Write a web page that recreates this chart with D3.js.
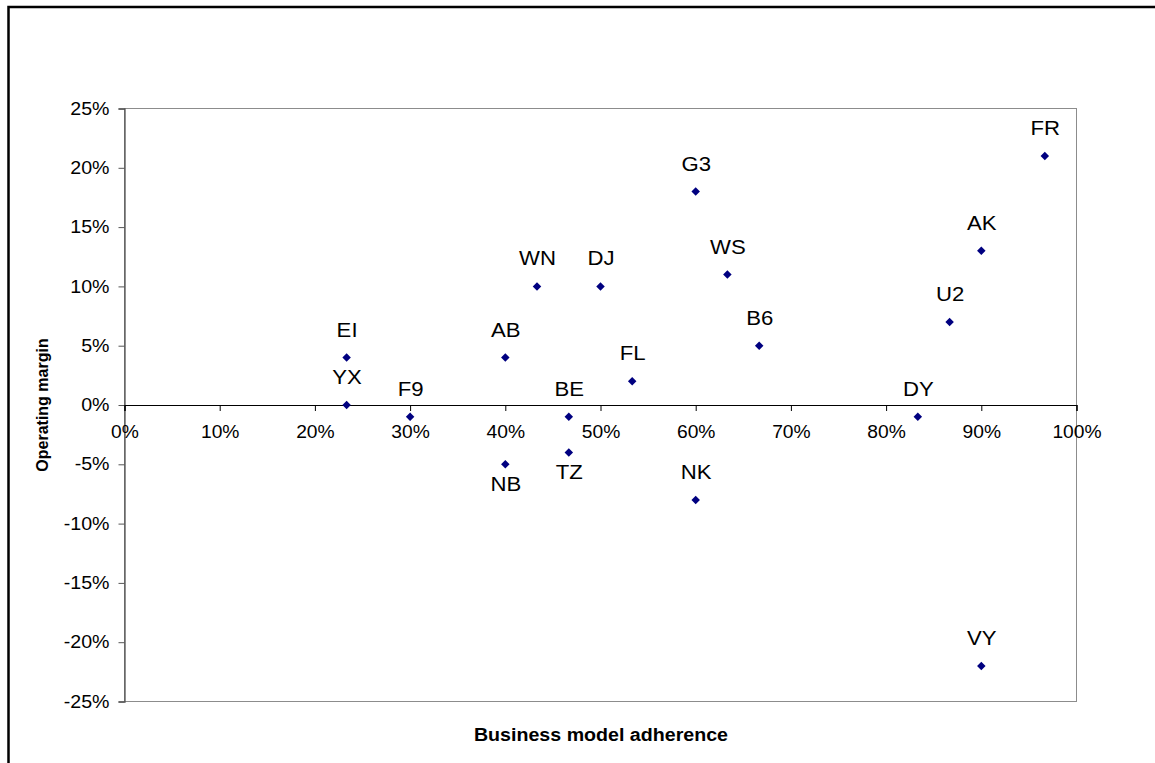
<!DOCTYPE html>
<html>
<head>
<meta charset="utf-8">
<script src="https://cdn.jsdelivr.net/npm/d3@7"></script>
<style>
  html, body { margin: 0; padding: 0; background: #fff; }
  svg { display: block; }
  text { font-family: "Liberation Sans", Arial, sans-serif; }
</style>
</head>
<body>
<svg id="chart" width="1155" height="763"></svg>
<script>
// Data
const airlines = ["EI","YX","F9","AB","NB","WN","BE","TZ","DJ","FL","G3","NK","WS","B6","DY","U2","AK","VY","FR"];
const adherence = [0.2333,0.2333,0.30,0.40,0.40,0.4333,0.4667,0.4667,0.50,0.5333,0.60,0.60,0.6333,0.6667,0.8333,0.8667,0.90,0.90,0.9667];
const margin = [0.04,0.00,-0.01,0.04,-0.05,0.10,-0.01,-0.04,0.10,0.02,0.18,-0.08,0.11,0.05,-0.01,0.07,0.13,-0.22,0.21];
const labelBelow = ["NB","TZ"];
const xTicks = [0,0.1,0.2,0.3,0.4,0.5,0.6,0.7,0.8,0.9,1.0];
const yTicks = [-0.25,-0.2,-0.15,-0.1,-0.05,0,0.05,0.1,0.15,0.2,0.25];
const xTitle = "Business model adherence";
const yTitle = "Operating margin";

const svg = d3.select("#chart");
const pct = v => Math.round(v * 100) + "%";

// horizontally stretch text (source image is slightly widened)
function stretch(sel, sx) {
  sel.each(function () {
    const w = this.getComputedTextLength();
    d3.select(this).attr("textLength", w * sx).attr("lengthAdjust", "spacingAndGlyphs");
  });
}

// outer frame (extends past the window on right and bottom)
svg.append("rect")
  .attr("x", 8.5).attr("y", 7)
  .attr("width", 1200).attr("height", 800)
  .attr("fill", "none").attr("stroke", "#000").attr("stroke-width", 2.5);

const x = d3.scaleLinear().domain([0, 1]).range([124.5, 1076.5]);
const y = d3.scaleLinear().domain([-0.25, 0.25]).range([701.5, 108.5]);

// plot frame
svg.append("rect")
  .attr("x", x(0)).attr("y", y(0.25))
  .attr("width", x(1) - x(0)).attr("height", y(-0.25) - y(0.25))
  .attr("fill", "#fff").attr("stroke", "#8c8c8c").attr("stroke-width", 1);

// y axis
const yAxis = svg.append("g")
  .attr("transform", `translate(${x(0)},0)`)
  .call(d3.axisLeft(y).tickValues(yTicks).tickFormat(pct).tickSize(6).tickPadding(9));
yAxis.select(".domain").attr("stroke", "#555").attr("stroke-width", 1.3);
yAxis.selectAll(".tick line").attr("stroke", "#555");
yAxis.selectAll("text").attr("font-size", 17.5).attr("fill", "#000")
  .attr("font-family", "'Liberation Sans', Arial, sans-serif")
  .call(stretch, 1.12);

// x axis at zero
const xAxis = svg.append("g")
  .attr("transform", `translate(0,${y(0)})`)
  .call(d3.axisBottom(x).tickValues(xTicks).tickFormat(pct).tickSize(6).tickPadding(15));
xAxis.select(".domain").attr("stroke", "#000").attr("stroke-width", 1.2);
xAxis.selectAll(".tick line").attr("stroke", "#000");
xAxis.selectAll("text").attr("font-size", 17.5).attr("fill", "#000")
  .attr("font-family", "'Liberation Sans', Arial, sans-serif")
  .call(stretch, 1.1);

// points
const pts = airlines.map((a, i) => ({ name: a, x: adherence[i], y: margin[i] }));
svg.append("g").selectAll("path")
  .data(pts).join("path")
  .attr("d", d3.symbol(d3.symbolDiamond2, 46))
  .attr("transform", d => `translate(${x(d.x)},${y(d.y)})`)
  .attr("fill", "#000080");

// labels
svg.append("g").selectAll("text")
  .data(pts).join("text")
  .attr("x", d => x(d.x) + 0.5)
  .attr("y", d => labelBelow.includes(d.name) ? y(d.y) + 27 : y(d.y) - 21)
  .attr("text-anchor", "middle")
  .attr("font-size", 20.5)
  .attr("fill", "#000")
  .text(d => d.name)
  .call(stretch, 1.08);

// axis titles
svg.append("text")
  .attr("x", 601).attr("y", 741)
  .attr("text-anchor", "middle")
  .attr("font-size", 18).attr("font-weight", "bold")
  .text(xTitle)
  .call(stretch, 1.09);

svg.append("text")
  .attr("transform", `translate(48,${y(0)}) rotate(-90)`)
  .attr("text-anchor", "middle")
  .attr("font-size", 16).attr("font-weight", "bold")
  .text(yTitle);
</script>
</body>
</html>
